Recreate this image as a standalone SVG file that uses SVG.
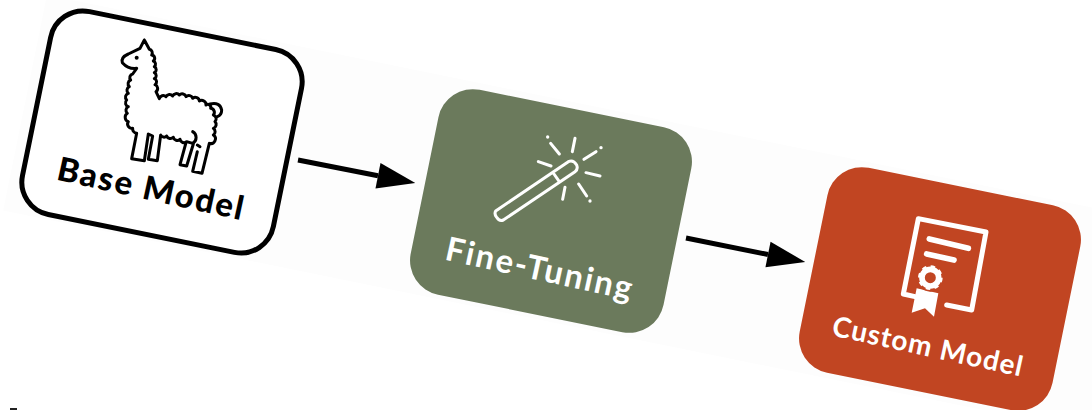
<svg xmlns="http://www.w3.org/2000/svg" width="1092" height="410" viewBox="0 0 1092 410">
<style>
.lbl{font-family:"Lato","Liberation Sans",sans-serif;font-weight:700;letter-spacing:1.8px;text-anchor:middle}
.ic{fill:none;stroke:#fff;stroke-linecap:round;stroke-linejoin:round}
.ll{fill:none;stroke:#000;stroke-width:9;stroke-linejoin:round;stroke-linecap:round}
.cn{stroke:#000;stroke-width:5;fill:none}
</style>
<defs><marker id="ah" markerUnits="userSpaceOnUse" markerWidth="40" markerHeight="28" refX="2" refY="14" orient="auto"><path d="M2 1L40 14L2 27Z" fill="#000"/></marker></defs>
<rect width="1092" height="410" fill="#fff"/>
<rect x="0" y="0" width="1200" height="220" transform="translate(47 -5) rotate(11.500)" fill="#fdfdfd"/>
<g id="connectors">
<path class="cn" d="M298 160L378 175.700" marker-end="url(#ah)"/>
<path class="cn" d="M686 238L768 254.500" marker-end="url(#ah)"/>
</g>
<g id="base-model">
<rect x="-128" y="-103.500" width="256" height="207" rx="33" transform="translate(162 132) rotate(11.500)" fill="#fff" stroke="#000" stroke-width="5"/>
<g transform="scale(.33333)">
<path class="ll" d="M433 120L448 148A11 11 0 0 1 455 165A10 10 0 0 1 460 183A10 10 0 0 1 463 200A10 10 0 0 1 463 218A10 10 0 0 1 463 236A10 10 0 0 1 465 254A12 12 0 0 1 468 275L478 296A12 12 0 0 1 498 290A12 12 0 0 1 518 288A12 12 0 0 1 538 285A12 12 0 0 1 558 290A12 12 0 0 1 578 295A12 12 0 0 1 598 303A13 13 0 0 1 618 315A9 9 0 0 1 632 325A12 12 0 0 1 640 345A12 12 0 0 1 645 365A12 12 0 0 1 640 385A12 12 0 0 1 640 405A14 14 0 0 1 628 430L606 520L578 514L592 455M578 395A20 20 0 0 1 578 430L560 425A12 12 0 0 1 540 418A12 12 0 0 1 520 412A12 12 0 0 1 500 408A11 11 0 0 1 482 405L472 482L445 478L458 408L445 402L433 482L395 476L410 400A14 14 0 0 1 398 385A13 13 0 0 1 385 365A14 14 0 0 1 382 340A12 12 0 0 1 385 320A12 12 0 0 1 380 300A12 12 0 0 1 385 280A12 12 0 0 1 388 260A12 12 0 0 1 392 240A11 11 0 0 1 398 222L410 205Q385 208 367 188Q362 172 385 162L420 145L433 120"/>
<path class="ll" d="M580 432L560 498L540 494L558 428M592 435L600 440M630 312Q660 305 665 330Q665 345 652 350"/>
<circle cx="410" cy="173" r="6" fill="#000"/>
</g>
<text class="lbl" font-size="33" transform="translate(149 200) rotate(12.300)" fill="#000" style="font-weight:900">Base Model</text>
</g>
<g id="fine-tuning">
<rect x="-129" y="-104.500" width="258" height="209" rx="35" transform="translate(551 211) rotate(11.500)" fill="#6b7a5c"/>
<g transform="translate(400 80) scale(.33333)">
<path class="ic" stroke-width="9" d="M287 393L505 245Q520 238 530 255Q535 268 525 275L310 420Q298 425 290 412Q282 402 287 393ZM462 282L478 305M452 190L478 222M525 175L517 215M552 238L588 215M558 278L600 288M536 312L560 348M495 322L488 358M415 245L453 258"/>
<g fill="#fff"><circle cx="443" cy="171" r="5"/><circle cx="603" cy="203" r="5"/><circle cx="570" cy="363" r="5"/></g>
</g>
<text class="lbl" font-size="33" transform="translate(537.500 280) rotate(12.300)" fill="#fff">Fine-Tuning</text>
</g>
<g id="custom-model">
<rect x="-129" y="-104.500" width="258" height="209" rx="35" transform="translate(940 289) rotate(11.500)" fill="#c14522"/>
<g transform="translate(790 160) scale(.33333)">
<path class="ic" stroke-width="15" d="M375 410L340 402L385 176L588 216L545 450L470 435"/>
<path class="ic" stroke-width="17" d="M418 237L535 265M410 282L492 300"/>
<path d="M380 385L445 400L432 470L405 445L365 458Z" fill="#fff"/>
<circle cx="421" cy="353" r="42" fill="#c14522"/>
<circle cx="421" cy="353" r="25" fill="none" stroke="#fff" stroke-width="17"/>
<circle cx="421" cy="353" r="34" fill="none" stroke="#fff" stroke-width="6" stroke-dasharray="13.500 13.200"/>
</g>
<text class="lbl" font-size="28" style="letter-spacing:1px" transform="translate(926 356) rotate(12.300)" fill="#fff">Custom Model</text>
</g>
<rect x="10" y="408" width="7" height="2" fill="#222"/>
</svg>
